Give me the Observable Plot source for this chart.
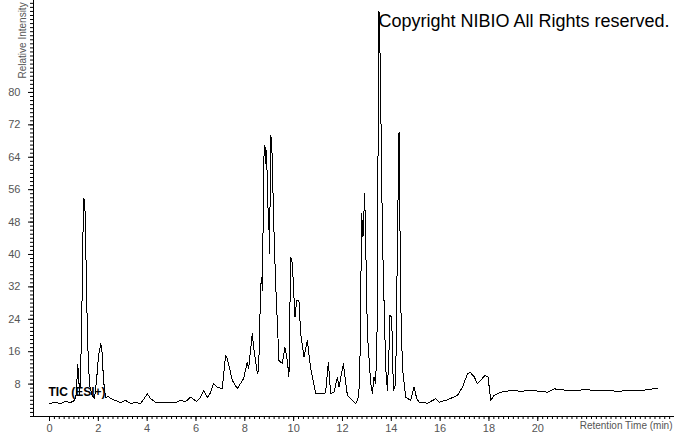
<!DOCTYPE html>
<html><head><meta charset="utf-8">
<script src="https://cdn.jsdelivr.net/npm/d3@7"></script>
<script src="https://cdn.jsdelivr.net/npm/@observablehq/plot@0.6"></script>
<style>body{margin:0;background:#fff}</style>
</head><body><div id="chart"></div>
<script>
// Retention time (min)
const times = [0,0.246,0.451,0.656,0.861,1.025,1.107,1.148,1.189,1.230,1.270,1.332,1.373,1.406,1.447,1.496,1.557,1.639,1.750,1.844,1.926,2.008,2.102,2.152,2.213,2.295,2.418,2.5,2.705,2.910,3.115,3.320,3.525,3.730,3.852,4.004,4.139,4.344,4.754,5.164,5.369,5.574,5.779,6.025,6.189,6.324,6.463,6.598,6.721,6.873,7.078,7.213,7.283,7.488,7.693,7.951,8.102,8.156,8.307,8.361,8.512,8.566,8.648,8.689,8.717,8.783,8.824,8.852,8.893,8.934,8.988,9.016,9.057,9.098,9.127,9.180,9.262,9.398,9.537,9.643,9.742,9.807,9.877,9.947,10.053,10.123,10.217,10.287,10.422,10.561,10.697,10.902,11.107,11.242,11.311,11.422,11.516,11.652,11.791,11.857,12.037,12.201,12.406,12.541,12.635,12.705,12.787,12.840,12.910,12.951,13.020,13.156,13.225,13.291,13.361,13.430,13.455,13.496,13.545,13.635,13.701,13.770,13.840,13.906,13.947,14.016,14.086,14.180,14.221,14.291,14.316,14.344,14.385,14.455,14.590,14.795,14.930,15.041,15.135,15.480,15.820,15.955,16.299,16.709,16.914,17.119,17.225,17.389,17.529,17.664,17.828,17.963,18.074,18.209,18.484,18.893,19.303,19.836,20.123,20.398,20.668,20.943,21.352,21.762,22.037,22.377,22.717,23.074,23.402,23.730,24.086,24.496,24.672,24.906];
// Relative intensity
const intensity = [3.21,3.46,3.21,3.70,3.46,3.95,5.93,12.84,10.86,5.19,8.89,28.64,45.93,53.83,52.84,38.52,18.77,7.65,5.19,4.44,8.89,15.06,18.02,15.80,8.89,4.69,4.94,4.44,3.95,3.46,3.95,3.21,3.46,3.21,4.20,5.60,4.44,3.53,3.46,3.46,3.95,3.70,4.77,3.70,4.77,6.42,4.69,5.93,8.15,7.23,6.91,15.06,14.32,8.89,6.91,9.38,13.41,11.85,20.49,17.04,10.62,11.36,31.93,34.40,31.11,64.02,66.91,62.47,65.68,53.33,46.74,40.25,69.38,68.15,62.47,48.40,32.84,13.83,13.09,17.11,13.83,9.70,39.33,37.78,24.52,28.64,28.64,20.49,14.64,18.77,11.85,5.68,5.68,5.60,6.0,13.41,5.68,6.0,9.70,7.23,13.01,5.19,3.95,3.14,4.44,8.15,50.05,44.27,54.99,42.72,20.49,8.15,5.68,9.70,8.15,24.52,63.21,100,87.9,45.19,28.64,12.17,6.42,16.30,24.94,24.52,6.42,8.15,28.64,60.74,70.20,53.33,28.64,12.17,4.77,3.95,7.23,4.44,3.53,3.28,4.37,3.53,4.12,5.19,7.23,10.54,10.94,9.88,8.07,8.89,10.12,9.70,3.95,5.19,6.0,6.42,6.25,6.42,6.17,6.0,6.84,6.59,6.42,6.54,6.59,6.42,6.42,6.30,6.25,6.54,6.42,6.59,6.79,6.84];

const xTicks = [0,2,4,6,8,10,12,14,16,18,20];
const yTicks = [8,16,24,32,40,48,56,64,72,80];
const xMinor = d3.range(0, 129).map(i => +(i * 0.2).toFixed(1)).filter(v => v <= 25.6);
const yMinor = d3.range(0, 103);

const data = times.map((t, i) => ({t, v: intensity[i]}));

const chart = Plot.plot({
  width: 674, height: 434,
  marginLeft: 33, marginRight: 0, marginTop: 0, marginBottom: 18,
  style: {background: "#fff", fontFamily: "Arial, 'Liberation Sans', sans-serif", overflow: "visible"},
  x: {domain: [-0.656, 25.6], axis: null, label: null},
  y: {domain: [0, 102.7], axis: null, label: null},
  marks: [
    Plot.axisX(xMinor, {anchor: "bottom", tickSize: 3, tickFormat: () => "", stroke: "#000", label: null}),
    Plot.axisX(xTicks, {anchor: "bottom", tickSize: 5, tickPadding: 3, fontSize: 11, fill: "#555", stroke: "#000", label: null}),
    Plot.axisY(yMinor, {anchor: "left", tickSize: 3, tickFormat: () => "", stroke: "#000", label: null}),
    Plot.axisY(yTicks, {anchor: "left", tickSize: 5, tickPadding: 8, fontSize: 11, fill: "#555", stroke: "#000", label: null}),
    Plot.ruleY([0], {stroke: "#000"}),
    Plot.ruleX([-0.656], {stroke: "#000"}),
    Plot.line(data, {x: "t", y: "v", stroke: "#000", strokeWidth: 1, shapeRendering: "crispEdges"}),
    Plot.text(["Relative Intensity"], {frameAnchor: "top-left", dx: -15, dy: 78, rotate: -90, textAnchor: "start", fontSize: 10, fill: "#555"}),
    Plot.text(["Retention Time (min)"], {frameAnchor: "bottom-right", dx: -2, dy: 12, textAnchor: "end", fontSize: 10, fill: "#555"}),
    Plot.text(["Copyright NIBIO All Rights reserved."], {frameAnchor: "top-left", dx: 345, dy: 14, textAnchor: "start", fontSize: 18, fill: "#000"}),
    Plot.text(["TIC (ESI+)"], {frameAnchor: "bottom-left", dx: 15, dy: -21, textAnchor: "start", fontSize: 12, fontWeight: "bold", fill: "#000"})
  ]
});
document.getElementById("chart").append(chart);
</script>
</body></html>
